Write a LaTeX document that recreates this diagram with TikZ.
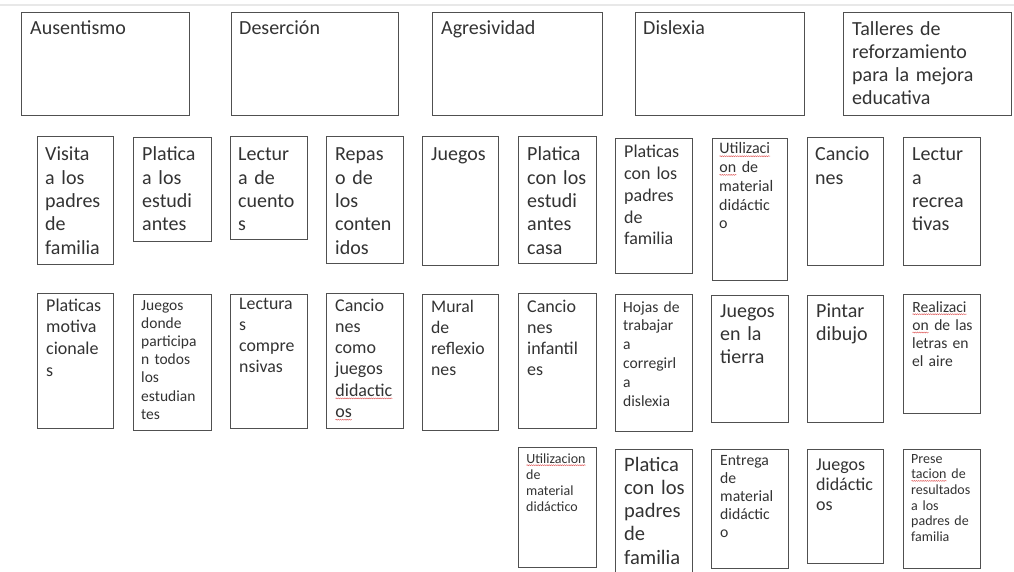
\documentclass[tikz,border=0pt]{standalone}
\usepackage{fontspec}
\setmainfont{Carlito}
\usetikzlibrary{decorations.pathmorphing}
\definecolor{tx}{HTML}{333333}
\definecolor{bd}{HTML}{505050}
\definecolor{sqred}{HTML}{E05A5A}
\newcommand\sq[1]{\tikz[baseline=(sqw.base)]{\node[inner sep=0pt, outer sep=0pt] (sqw) {#1};
  \draw[sqred, line width=0.45pt, decorate, decoration={snake, amplitude=0.5pt, segment length=2.2pt}]
   ([yshift=-2.2pt]sqw.base west) -- ([yshift=-2.2pt]sqw.base east);}}
\tikzset{
  box/.style={draw=bd, line width=1.3pt, inner sep=0pt, anchor=north west, fill=white},
  lbl/.style 2 args={anchor=base west, inner sep=0pt, text width=150pt, align=left,
     text=tx, font=\fontsize{#1}{#2}\selectfont},
}
\begin{document}
\begin{tikzpicture}[x=1pt,y=-1pt]
\useasboundingbox (0,0) rectangle (1014,572);
\fill[white] (0,0) rectangle (1014,572);
\draw[gray!18, line width=1.2pt] (0,5) -- (1014,5);
% top row
\node[box, minimum width=168pt, minimum height=103pt] (aus) at (21,12) {};
\node[lbl={20}{23}] (aust) at (30,35) {Ausentismo};
\node[box, minimum width=167pt, minimum height=103pt] (des) at (231,12) {};
\node[lbl={20}{23}] (dest) at (239,35) {Deserción};
\node[box, minimum width=170pt, minimum height=103pt] (agr) at (432,12) {};
\node[lbl={20}{23}] (agrt) at (441,35) {Agresividad};
\node[box, minimum width=169pt, minimum height=103pt] (dis) at (635,12) {};
\node[lbl={20}{23}] (dist) at (643,35) {Dislexia};
\node[box, minimum width=168pt, minimum height=103pt] (tal) at (843,12) {};
\node[lbl={20}{22.8}] (talt) at (852,36) {Talleres de\\reforzamiento\\para la mejora\\educativa};
% row 2
\node[box, minimum width=76pt, minimum height=128pt] (r2a) at (37,136) {};
\node[lbl={20}{23.3}] (r2at) at (45,161) {Visita\\a los\\padres\\de\\familia};
\node[box, minimum width=78pt, minimum height=104pt] (r2b) at (133,137) {};
\node[lbl={20}{23.3}] (r2bt) at (142,161) {Platica\\a los\\estudi\\antes};
\node[box, minimum width=77pt, minimum height=103pt] (r2c) at (230,136) {};
\node[lbl={20}{23.3}] (r2ct) at (238,161) {Lectur\\a de\\cuento\\s};
\node[box, minimum width=77pt, minimum height=127pt] (r2d) at (326,136) {};
\node[lbl={20}{23.3}] (r2dt) at (335,161) {Repas\\o de\\los\\conten\\idos};
\node[box, minimum width=76pt, minimum height=129pt] (r2e) at (422,136) {};
\node[lbl={20}{23.3}] (r2et) at (431,161) {Juegos};
\node[box, minimum width=78pt, minimum height=127pt] (r2f) at (518,136) {};
\node[lbl={20}{23.3}] (r2ft) at (527,161) {Platica\\con los\\estudi\\antes\\casa};
\node[box, minimum width=77pt, minimum height=135pt] (r2g) at (615,138) {};
\node[lbl={18}{21.7}] (r2gt) at (624,158) {Platicas\\con los\\padres\\de\\familia};
\node[box, minimum width=75pt, minimum height=142pt] (r2h) at (712,138) {};
\node[lbl={16}{18.7}] (r2ht) at (719,154) {\sq{Utilizaci}\\\sq{on} de\\material\\didáctic\\o};
\node[box, minimum width=76pt, minimum height=128pt] (r2i) at (807,137) {};
\node[lbl={20}{23.3}] (r2it) at (815,161) {Cancio\\nes};
\node[box, minimum width=77pt, minimum height=128pt] (r2j) at (903,137) {};
\node[lbl={20}{23.3}] (r2jt) at (912,161) {Lectur\\a\\recrea\\tivas};
% row 3
\node[box, minimum width=76pt, minimum height=135pt] (r3a) at (37,293) {};
\node[lbl={18}{21.7}] (r3at) at (46,311) {Platicas\\motiva\\cionale\\s};
\node[box, minimum width=78pt, minimum height=136pt] (r3b) at (133,294) {};
\node[lbl={15.5}{18.2}] (r3bt) at (141,310) {Juegos\\donde\\participa\\n todos\\los\\estudian\\tes};
\node[box, minimum width=77pt, minimum height=134pt] (r3c) at (230,294) {};
\node[lbl={17.8}{21}] (r3ct) at (239,309) {Lectura\\s\\compre\\nsivas};
\node[box, minimum width=77pt, minimum height=135pt] (r3d) at (326,293) {};
\node[lbl={18}{21.3}] (r3dt) at (335,311) {Cancio\\nes\\como\\juegos\\\sq{didactic}\\\sq{os}};
\node[box, minimum width=76pt, minimum height=136pt] (r3e) at (422,294) {};
\node[lbl={17.7}{21}] (r3et) at (431,312) {Mural\\de\\reflexio\\nes};
\node[box, minimum width=78pt, minimum height=135pt] (r3f) at (518,293) {};
\node[lbl={18}{21}] (r3ft) at (527,312) {Cancio\\nes\\infantil\\es};
\node[box, minimum width=77pt, minimum height=137pt] (r3g) at (615,294) {};
\node[lbl={15.6}{18.9}] (r3gt) at (623,312) {Hojas de\\trabajar\\a\\corregirl\\a\\dislexia};
\node[box, minimum width=77pt, minimum height=127pt] (r3h) at (711,295) {};
\node[lbl={20}{23.3}] (r3ht) at (720,317) {Juegos\\en la\\tierra};
\node[box, minimum width=76pt, minimum height=127pt] (r3i) at (807,295) {};
\node[lbl={20}{23.3}] (r3it) at (816,317) {Pintar\\dibujo};
\node[box, minimum width=77pt, minimum height=119pt] (r3j) at (903,294) {};
\node[lbl={15.6}{18.3}] (r3jt) at (912,312) {\sq{Realizaci}\\\sq{on} de las\\letras en\\el aire};
% row 4
\node[box, minimum width=78pt, minimum height=120pt] (r4a) at (518,447) {};
\node[lbl={14}{16.2}] (r4at) at (526,463) {\sq{Utilizacion}\\de\\material\\didáctico};
\node[box, minimum width=77pt, minimum height=136pt] (r4b) at (615,449) {};
\node[lbl={20.5}{23.3}] (r4bt) at (624,471) {Platica\\con los\\padres\\de\\familia};
\node[box, minimum width=77pt, minimum height=119pt] (r4c) at (711,449) {};
\node[lbl={15.7}{18}] (r4ct) at (720,465) {Entrega\\de\\material\\didáctic\\o};
\node[box, minimum width=76pt, minimum height=114pt] (r4d) at (807,449) {};
\node[lbl={18}{20}] (r4dt) at (816,470) {Juegos\\didáctic\\os};
\node[box, minimum width=77pt, minimum height=119pt] (r4e) at (903,449) {};
\node[lbl={14}{15.7}] (r4et) at (911,463) {Prese\\\sq{tacion} de\\resultados\\a los\\padres de\\familia};
\end{tikzpicture}
\end{document}
